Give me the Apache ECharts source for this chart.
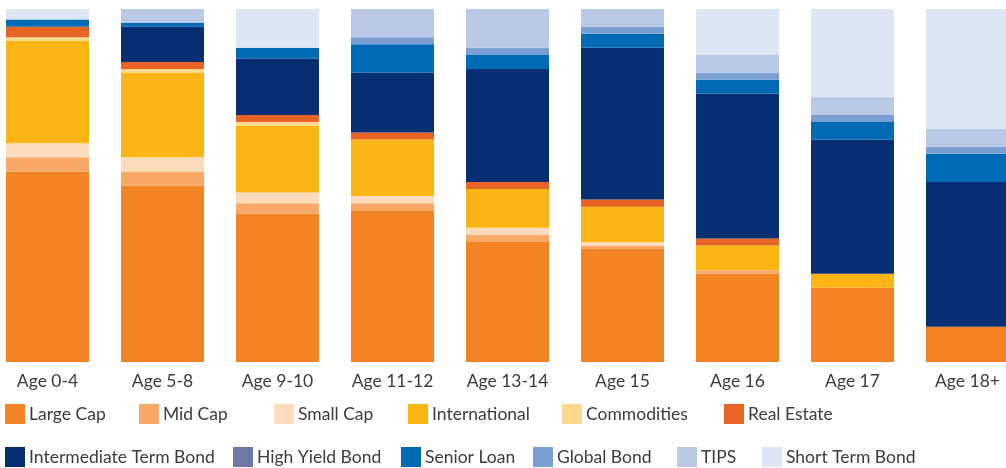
<!DOCTYPE html>
<html>
<head>
<meta charset="utf-8">
<script src="https://cdn.jsdelivr.net/npm/echarts@6/dist/echarts.min.js"></script>
<style>
html,body{margin:0;padding:0;background:#fff;overflow:hidden;width:1006px;height:468px;}
#chart{width:1035px;height:468px;margin-left:-10px;}
</style>
</head>
<body>
<div id="chart"></div>
<script>
const categories = ['Age 0-4','Age 5-8','Age 9-10','Age 11-12','Age 13-14','Age 15','Age 16','Age 17','Age 18+'];
const largeCap      = [54,50,42,43,34,32,25,21,10];
const midCap        = [4,4,3,2,2,1,1,0,0];
const smallCap      = [4,4,3,2,2,1,0,0,0];
const international = [29,24,19,16,11,10,7,4,0];
const commodities   = [1,1,1,0,0,0,0,0,0];
const realEstate    = [3,2,2,2,2,2,2,0,0];
const intermediateTermBond = [0,10,16,17,32,43,41,38,41];
const highYieldBond = [0,0,0,0,0,0,0,0,0];
const seniorLoan    = [2,1,3,8,4,4,4,5,8];
const globalBond    = [0,0,0,2,2,2,2,2,2];
const tips          = [0,4,0,8,11,5,5,5,5];
const shortTermBond = [3,0,11,0,0,0,13,25,34];

const seriesNames = ['Large Cap','Mid Cap','Small Cap','International','Commodities','Real Estate',
  'Intermediate Term Bond','High Yield Bond','Senior Loan','Global Bond','TIPS','Short Term Bond'];
const seriesData = [largeCap,midCap,smallCap,international,commodities,realEstate,
  intermediateTermBond,highYieldBond,seniorLoan,globalBond,tips,shortTermBond];
const colors = ['#F38424','#F8A968','#FDDBBD','#FBB616','#FED98E','#E86424',
  '#062E73','#6E78A8','#006AB5','#7A9FD3','#B9C9E6','#DFE6F3'];

// chart div is shifted 10px left of the window
const legendLeft = [15,149,284,418,572,734, 15,243,411,543,687,772];
const legendTop  = [404,404,404,404,404,404, 447,447,447,447,447,447];

const FONT = 'Lato';
const FS = 17.5;
const chart = echarts.init(document.getElementById('chart'));
chart.setOption({
  animation:false,
  color:colors,
  grid:{left:0,right:0,top:9,bottom:106,containLabel:false},
  legend: seriesNames.map((n,i)=>({
    data:[n], left:legendLeft[i], top:legendTop[i], padding:0,
    itemWidth:20, itemHeight:20, icon:'rect', selectedMode:false,
    textStyle:{fontFamily:FONT,fontSize:FS,color:'#3c3c3c',padding:[0,0,0,-1]}
  })),
  xAxis:{type:'category',data:categories,
    axisLine:{show:false},axisTick:{show:false},
    axisLabel:{fontFamily:FONT,fontSize:FS,color:'#3c3c3c',margin:10,interval:0}},
  yAxis:{type:'value',min:0,max:100,show:false,splitLine:{show:false}},
  series: seriesNames.map((n,i)=>({
    name:n,type:'bar',stack:'total',barWidth:83,data:seriesData[i],
    itemStyle:{color:colors[i]}
  }))
});
</script>
</body>
</html>
